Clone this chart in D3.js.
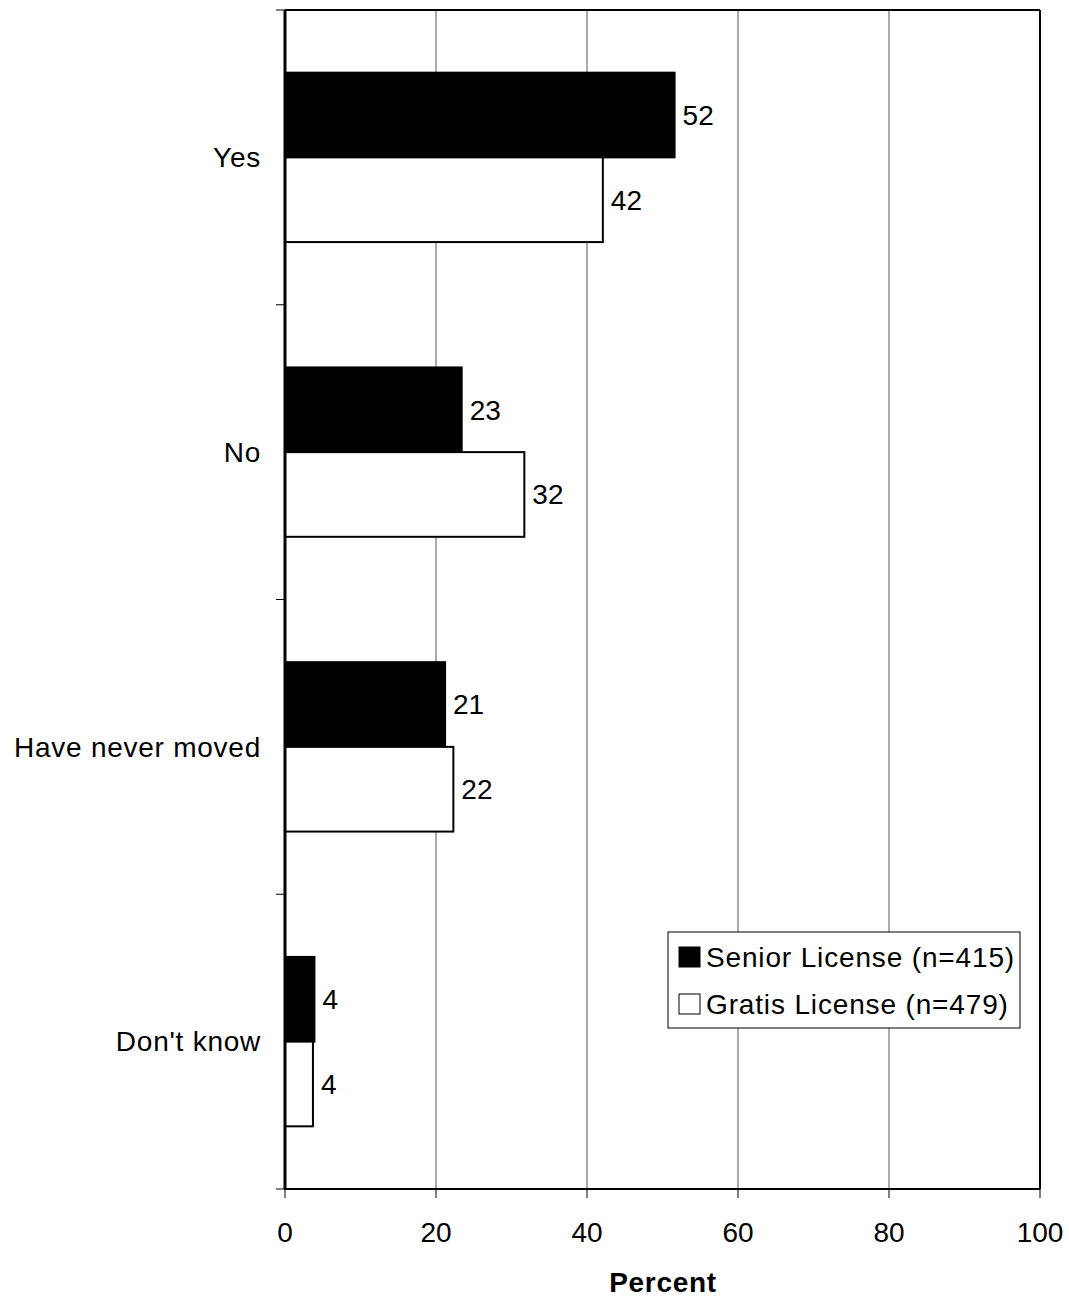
<!DOCTYPE html>
<html><head><meta charset="utf-8">
<script src="https://cdn.jsdelivr.net/npm/d3@7"></script>
<style>body{margin:0;background:#fff}svg{display:block}text{font-family:"Liberation Sans",Arial,sans-serif}</style>
</head><body>
<svg id="c" width="1069" height="1297"></svg>
<script>
const categories = ["Yes", "No", "Have never moved", "Don't know"];
const seniorValues = [51.6, 23.4, 21.2, 3.9];
const gratisValues = [42.1, 31.7, 22.3, 3.7];
const seriesNames = ["Senior License (n=415)", "Gratis License (n=479)"];
const seriesColors = ["#000000", "#ffffff"];
const xTicks = [0, 20, 40, 60, 80, 100];

const FS = 28;
const svg = d3.select("#c");
const L = 285, R = 1040, T = 10, B = 1189;
const x = d3.scaleLinear().domain([0, 100]).range([L, R]);
const y = d3.scaleBand().domain(categories).range([T, B]).padding(0);
const ySub = d3.scaleBand().domain([0, 1]).range([0, y.bandwidth()]).paddingInner(0).paddingOuter(0.74);

// gridlines
svg.append("g").selectAll("line").data(xTicks.filter(d => d > 0 && d < 100)).join("line")
  .attr("x1", d => x(d)).attr("x2", d => x(d)).attr("y1", T).attr("y2", B)
  .attr("stroke", "#555").attr("stroke-width", 1);

// frame top & right
svg.append("line").attr("x1", L).attr("x2", R).attr("y1", T).attr("y2", T).attr("stroke", "#000").attr("stroke-width", 2);
svg.append("line").attr("x1", R).attr("x2", R).attr("y1", T).attr("y2", B).attr("stroke", "#000").attr("stroke-width", 2);

// bars
const data = [];
categories.forEach((c, i) => {
  data.push({c, s: 0, v: seniorValues[i]});
  data.push({c, s: 1, v: gratisValues[i]});
});
const g = svg.append("g");
g.selectAll("rect").data(data).join("rect")
  .attr("x", x(0)).attr("y", d => y(d.c) + ySub(d.s))
  .attr("width", d => x(d.v) - x(0)).attr("height", ySub.bandwidth())
  .attr("fill", d => seriesColors[d.s]).attr("stroke", "#000").attr("stroke-width", 2);
g.selectAll("text").data(data).join("text")
  .attr("x", d => x(d.v) + 8).attr("y", d => y(d.c) + ySub(d.s) + ySub.bandwidth() / 2)
  .attr("dy", "0.35em").attr("font-size", FS).text(d => Math.round(d.v));

// y axis
const yTickPos = d3.range(categories.length + 1).map(i => T + i * y.step());
svg.append("g").selectAll("line").data(yTickPos).join("line")
  .attr("x1", L - 9).attr("x2", L).attr("y1", d => d).attr("y2", d => d)
  .attr("stroke", "#000").attr("stroke-width", 1);
svg.append("line").attr("x1", L).attr("x2", L).attr("y1", T).attr("y2", B).attr("stroke", "#000").attr("stroke-width", 3);
svg.append("g").selectAll("text").data(categories).join("text")
  .attr("x", 261).attr("y", d => y(d) + y.bandwidth() / 2).attr("dy", "0.35em")
  .attr("text-anchor", "end").attr("font-size", FS).attr("letter-spacing", "0.75px").text(d => d);

// x axis
svg.append("g").selectAll("line").data(xTicks).join("line")
  .attr("x1", d => x(d)).attr("x2", d => x(d)).attr("y1", B).attr("y2", B + 9)
  .attr("stroke", "#000").attr("stroke-width", 1);
svg.append("line").attr("x1", L - 1).attr("x2", R).attr("y1", B).attr("y2", B).attr("stroke", "#000").attr("stroke-width", 2);
svg.append("g").selectAll("text").data(xTicks).join("text")
  .attr("x", d => x(d)).attr("y", 1242).attr("text-anchor", "middle").attr("font-size", FS).text(d => d);
svg.append("text").attr("x", 663).attr("y", 1292).attr("text-anchor", "middle")
  .attr("font-size", FS).attr("font-weight", "bold").attr("letter-spacing", "0.7px").text("Percent");

// legend
const lg = svg.append("g").attr("transform", "translate(668,932)");
lg.append("rect").attr("width", 352).attr("height", 96).attr("fill", "#fff").attr("stroke", "#000").attr("stroke-width", 1);
seriesNames.forEach((n, i) => {
  const cy = 25 + i * 47;
  lg.append("rect").attr("x", 11).attr("y", cy - 10).attr("width", 21).attr("height", 20)
    .attr("fill", seriesColors[i]).attr("stroke", "#000").attr("stroke-width", 1);
  lg.append("text").attr("x", 38).attr("y", cy).attr("dy", "0.35em").attr("font-size", FS)
    .attr("letter-spacing", "0.85px").text(n);
});
</script>
</body></html>
